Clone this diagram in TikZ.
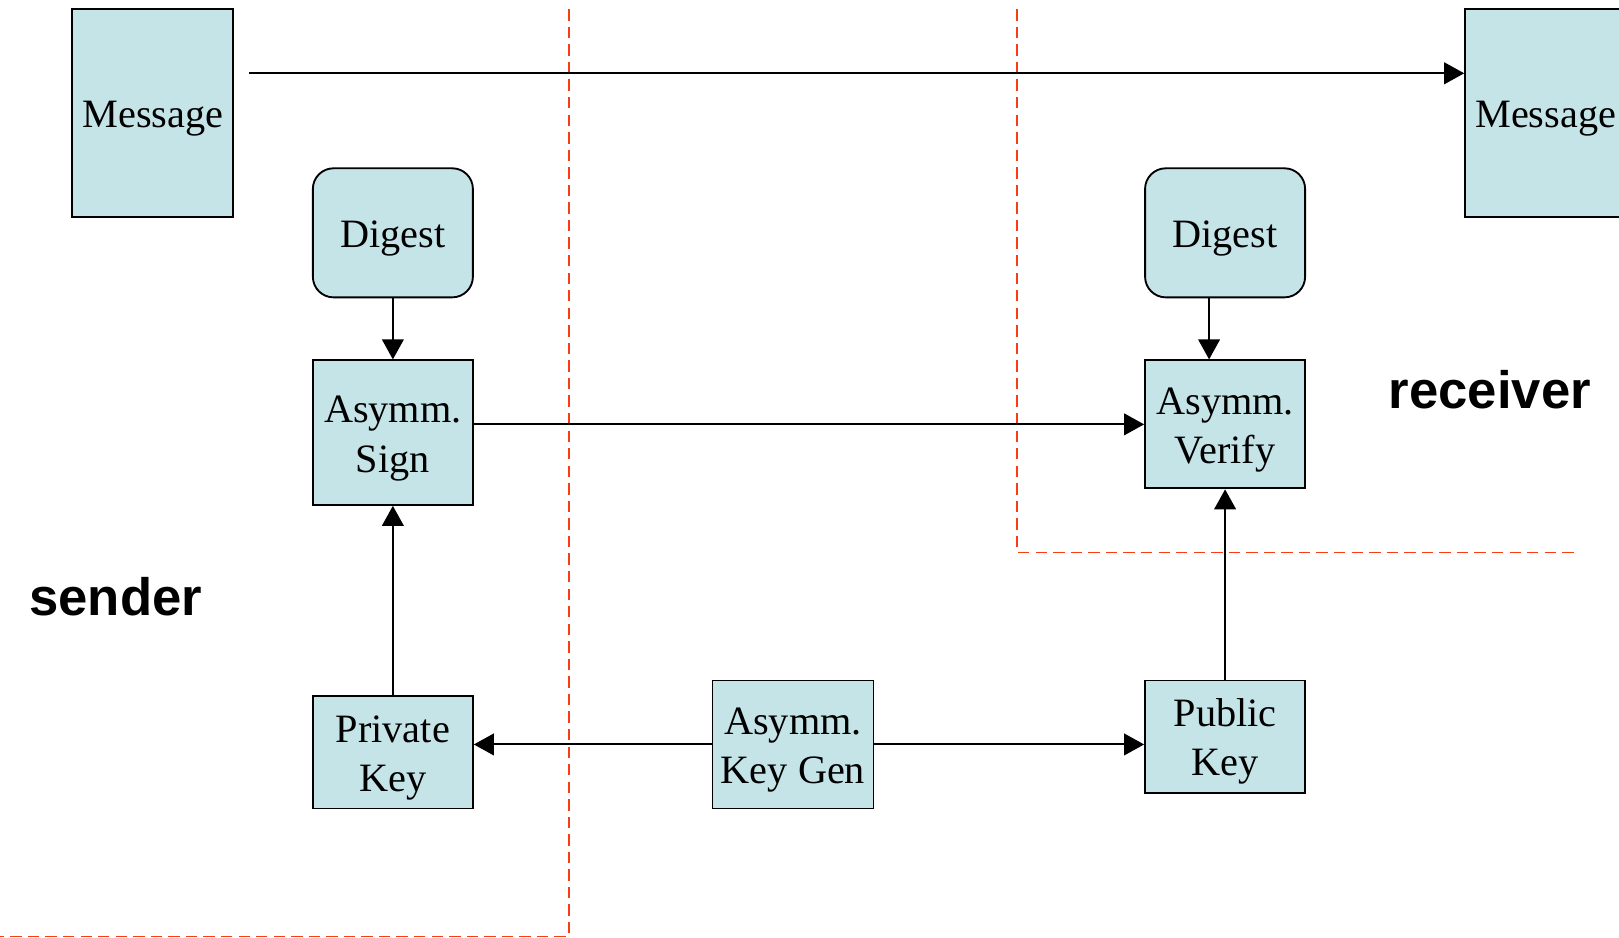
\documentclass[tikz,border=0pt]{standalone}
\usepackage{fontspec}
\setmainfont{Liberation Serif}
\newfontfamily\labelfont{Liberation Sans}
\usetikzlibrary{arrows.meta}
\definecolor{boxfill}{RGB}{197,228,232}
\definecolor{zonered}{RGB}{250,60,20}
\tikzset{
  x=0.5pt, y=-0.5pt,
  box/.style={draw=black, line width=0.9pt, fill=boxfill, inner sep=0pt},
  rbox/.style={box, rounded corners=10pt},
  boxtext/.style={align=center, inner sep=0pt, yshift=-2.8pt,
    font=\fontsize{19.5}{24}\selectfont},
  conn/.style={line width=1pt, -{Triangle[length=9.75pt,width=10.5pt]}},
  zone/.style={draw=zonered, line width=0.75pt, dash pattern=on 5.5pt off 3pt},
  side/.style={font=\labelfont\bfseries\fontsize{25.5}{30}\selectfont, inner sep=0pt}
}
\begin{document}
\begin{tikzpicture}
\useasboundingbox (0,0) rectangle (1568,908);
\begin{scope}
\clip (0,0) rectangle (1568,908);
% zone borders
\draw[zone] (551,9) -- (551,907) -- (0,907);
\draw[zone] (985,9) -- (985,535) -- (1527,535);
% nodes
\node[box, minimum width=78pt, minimum height=100.5pt,
  label={[boxtext]center:Message}] (msgL) at (148,109.5) {};
\node[box, minimum width=78pt, minimum height=100.5pt,
  label={[boxtext]center:Message}] (msgR) at (1497,109.5) {};
\node[rbox, minimum width=77.5pt, minimum height=62.5pt,
  label={[boxtext]center:Digest}] (digL) at (380.5,225.5) {};
\node[rbox, minimum width=77.5pt, minimum height=62.5pt,
  label={[boxtext]center:Digest}] (digR) at (1186.5,225.5) {};
\node[box, minimum width=77.5pt, minimum height=70pt,
  label={[boxtext]center:Asymm.\\Sign}] (sign) at (380.5,419) {};
\node[box, minimum width=77.5pt, minimum height=62pt,
  label={[boxtext]center:Asymm.\\Verify}] (verify) at (1186.5,411) {};
\node[box, minimum width=77.5pt, minimum height=54.5pt,
  label={[boxtext]center:Private\\Key}] (priv) at (380.5,728.5) {};
\node[box, minimum width=78pt, minimum height=62pt,
  label={[boxtext]center:Asymm.\\Key Gen}] (gen) at (768,721) {};
\node[box, minimum width=77.5pt, minimum height=54.5pt,
  label={[boxtext, yshift=0.6pt]center:Public\\Key}] (pub) at (1186.5,713.5) {};
\node[side] (sender) at (112,578) {sender};
\node[side] (receiver) at (1443,377) {receiver};
\coordinate (mstart) at (241,71);
% connectors
\draw[conn] (mstart) -- (mstart -| msgR.west);
\draw[conn] (digL.south) -- (sign.north);
\draw[conn] ([xshift=-7.75pt]digR.south) -- ([xshift=-7.75pt]verify.north);
\draw[conn] (sign.east |- verify.west) -- (verify.west);
\draw[conn] (priv.north) -- (sign.south);
\draw[conn] (gen.west) -- (gen.west -| priv.east);
\draw[conn] (gen.east) -- (gen.east -| pub.west);
\draw[conn] (pub.north) -- (verify.south);
\end{scope}
\end{tikzpicture}
\end{document}
